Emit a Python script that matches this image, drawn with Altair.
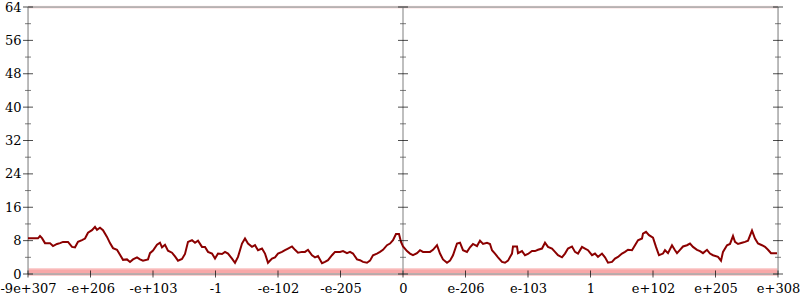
import altair as alt
import pandas as pd

# x positions are bucket indices (0..750); y is count per bucket
line_pos = [0, 10, 12, 14, 17, 22, 25, 29, 32, 35, 40, 44, 47, 50, 54, 57, 60, 64, 67, 69,
            72, 75, 79, 82, 85, 89, 92, 95, 99, 102, 105, 109, 112, 115, 120, 122, 125, 129, 132, 134,
            137, 140, 144, 147, 150, 154, 157, 160, 164, 167, 170, 174, 177, 180, 184, 187, 190, 194, 197, 200,
            204, 207, 210, 214, 217, 220, 224, 227, 230, 234, 237, 240, 244, 247, 250, 254, 257, 260, 264, 267,
            270, 274, 277, 280, 284, 287, 290, 294, 297, 300, 304, 307, 312, 315, 319, 322, 325, 329, 332, 335,
            339, 342, 345, 349, 352, 355, 359, 362, 365, 368, 371, 373, 375, 379, 382, 385, 389, 392, 395, 402,
            405, 409, 412, 415, 419, 422, 425, 429, 432, 435, 439, 442, 445, 449, 452, 455, 459, 462, 464, 467,
            470, 474, 477, 480, 484, 485, 489, 490, 494, 497, 500, 504, 507, 510, 514, 517, 520, 524, 527, 530,
            534, 537, 540, 544, 547, 550, 554, 557, 560, 564, 567, 570, 574, 577, 580, 584, 587, 590, 594, 597,
            600, 604, 607, 610, 614, 615, 618, 621, 625, 628, 631, 635, 637, 640, 644, 647, 649, 652, 655, 659,
            662, 665, 669, 672, 675, 679, 682, 685, 690, 693, 695, 699, 702, 705, 707, 710, 714, 717, 720, 724,
            727, 730, 734, 737, 740, 743, 749]
line_val = [8.55, 8.55, 9.1, 8.6, 7.4, 7.4, 6.7, 7.2, 7.4, 7.7, 7.7, 6.5, 6.4, 7.7, 8.1, 8.5, 9.9, 10.5, 11.3, 10.6,
            11.1, 10.5, 8.9, 7.4, 6.2, 5.8, 4.6, 3.4, 3.5, 2.9, 3.5, 4.0, 3.5, 3.2, 3.5, 5.0, 5.6, 7.0, 7.5, 6.4,
            7.0, 5.6, 5.1, 4.2, 3.2, 3.6, 4.8, 7.7, 8.1, 7.5, 8.0, 6.5, 6.5, 5.3, 4.9, 3.7, 4.9, 4.8, 5.3, 4.9,
            3.7, 2.7, 4.1, 7.3, 8.5, 7.3, 6.5, 6.9, 5.7, 6.1, 4.9, 2.7, 3.7, 4.0, 4.9, 5.3, 5.7, 6.1, 6.6, 5.8,
            5.1, 5.3, 5.3, 5.8, 4.5, 4.0, 4.3, 2.6, 2.9, 3.3, 4.5, 5.3, 5.3, 5.5, 5.0, 5.3, 4.9, 3.5, 3.3, 2.9,
            2.7, 3.2, 4.5, 4.9, 5.3, 5.8, 6.9, 7.3, 8.1, 9.6, 9.6, 7.7, 6.6, 5.5, 4.9, 4.5, 5.0, 5.7, 5.3, 5.3,
            5.8, 6.9, 4.9, 3.5, 2.7, 3.2, 4.5, 7.3, 7.5, 5.7, 5.3, 6.4, 7.2, 6.7, 8.0, 7.2, 7.5, 7.2, 5.7, 4.9,
            4.0, 2.9, 2.7, 3.2, 4.9, 6.6, 6.6, 5.0, 5.5, 4.5, 4.8, 5.5, 5.5, 5.8, 6.1, 7.5, 6.5, 6.1, 5.3, 4.5,
            4.0, 4.9, 6.1, 6.6, 5.3, 4.9, 6.5, 6.1, 5.7, 4.5, 4.9, 4.1, 4.9, 4.0, 2.7, 2.9, 3.7, 4.1, 4.9, 5.3,
            5.8, 5.7, 6.9, 8.1, 8.5, 9.7, 10.1, 9.3, 8.7, 6.5, 4.5, 4.9, 5.7, 5.0, 6.9, 5.7, 5.0, 5.8, 6.6, 6.9,
            7.3, 6.5, 5.8, 5.5, 5.0, 5.8, 4.9, 4.5, 4.1, 3.2, 5.3, 6.9, 7.2, 9.1, 7.7, 7.2, 7.5, 7.7, 8.0, 10.4,
            8.5, 7.3, 6.9, 6.5, 5.8, 5.0, 5.0]

x_tick_pos = [0, 62.5, 125, 187.5, 250, 312.5, 375, 437.5, 500, 562.5, 625, 687.5, 750]
x_tick_labels = ["-9e+307", "-e+206", "-e+103", "-1", "-e-102", "-e-205", "0",
                 "e-206", "e-103", "1", "e+102", "e+205", "e+308"]
y_major = [0, 8, 16, 24, 32, 40, 48, 56, 64]
y_minor = [4, 12, 20, 28, 36, 44, 52, 60]
axis_lines_x = [0, 375, 750]

# faint sample bands (bottom at 0..1, top at 64)
band_lo = [-0.4, 0.1, 63.6]
band_hi = [1.4, 1.0, 64.3]
band_op = [0.32, 0.18, 0.12]

X_DOM = [0, 750]
Y_DOM = [0, 64]
xs = alt.Scale(domain=X_DOM, nice=False, zero=False)
ys = alt.Scale(domain=Y_DOM, nice=False)

label_arr = "[" + ",".join("'" + s + "'" for s in x_tick_labels) + "]"
x_axis = alt.Axis(
    values=x_tick_pos, labelExpr=label_arr + "[round(datum.value/62.5)]",
    ticks=False, domain=False, grid=False, title=None, labelPadding=8,
    labelFlush=False, labelOverlap=False, labelBound=False,
    labelFont="DejaVu Serif", labelFontSize=13, labelColor="#000000")
y_axis = alt.Axis(
    values=y_major, ticks=False, domain=False, grid=False, title=None, labelPadding=7,
    labelFont="DejaVu Serif", labelFontSize=13, labelColor="#000000")

line_df = pd.DataFrame({"pos": line_pos, "val": line_val})
band_df = pd.DataFrame({"x0": [0] * 3, "x1": [750] * 3, "lo": band_lo, "hi": band_hi, "op": band_op})
ymaj_df = pd.DataFrame([{"ax": a, "v": v} for a in axis_lines_x for v in y_major])
ymin_df = pd.DataFrame([{"ax": a, "v": v} for a in axis_lines_x for v in y_minor])
xt_df = pd.DataFrame({"x": x_tick_pos, "y": [0] * len(x_tick_pos)})
vl_df = pd.DataFrame({"ax": axis_lines_x})
hl_df = pd.DataFrame({"v": [0, 64]})

bands = alt.Chart(band_df).mark_rect(color="#ee3b3b").encode(
    x=alt.X("x0:Q", scale=xs, axis=x_axis), x2="x1:Q",
    y=alt.Y("lo:Q", scale=ys, axis=y_axis), y2="hi:Q",
    opacity=alt.Opacity("op:Q", scale=None),
)

vlines = alt.Chart(vl_df).mark_rule(color="#aaaaaa", strokeWidth=1.5).encode(
    x=alt.X("ax:Q", scale=xs, axis=x_axis)
)
hlines = alt.Chart(hl_df).mark_rule(color="#aaaaaa", strokeWidth=1.5).encode(
    y=alt.Y("v:Q", scale=ys, axis=y_axis)
)

ymaj = alt.Chart(ymaj_df).mark_tick(orient="horizontal", color="#000000", size=10, thickness=1).encode(
    x=alt.X("ax:Q", scale=xs, axis=x_axis), y=alt.Y("v:Q", scale=ys, axis=y_axis)
)
ymin = alt.Chart(ymin_df).mark_tick(orient="horizontal", color="#444444", size=6, thickness=1).encode(
    x=alt.X("ax:Q", scale=xs, axis=x_axis), y=alt.Y("v:Q", scale=ys, axis=y_axis)
)
xt = alt.Chart(xt_df).mark_tick(orient="vertical", color="#000000", size=7, thickness=1).encode(
    x=alt.X("x:Q", scale=xs, axis=x_axis), y=alt.Y("y:Q", scale=ys, axis=y_axis)
)

line = alt.Chart(line_df).mark_line(color="#8b0000", strokeWidth=2).encode(
    x=alt.X("pos:Q", scale=xs, axis=x_axis),
    y=alt.Y("val:Q", scale=ys, axis=y_axis),
)

chart = alt.layer(bands, vlines, hlines, line, ymin, ymaj, xt).properties(
    width=750, height=267,
    autosize=alt.AutoSizeParams(type="none"),
    padding={"left": 28, "top": 7, "right": 22, "bottom": 26},
).configure_view(stroke=None).configure(background="white")

chart.save("out.html", embed_options={"renderer": "svg", "actions": False})
